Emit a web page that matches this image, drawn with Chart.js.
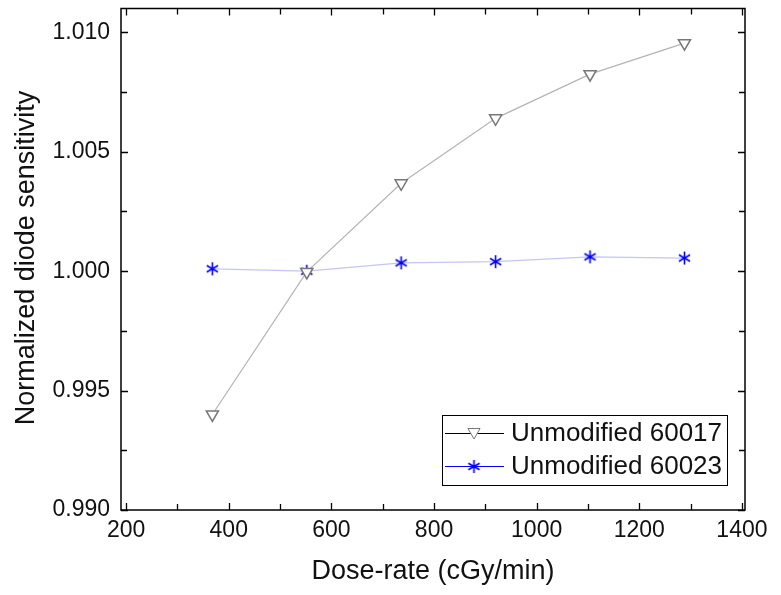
<!DOCTYPE html>
<html>
<head>
<meta charset="utf-8">
<script src="https://cdn.jsdelivr.net/npm/chart.js@4.4.0/dist/chart.umd.min.js"></script>
<style>
  body { margin: 0; background: #fff; }
  #wrap { width: 781px; height: 595px; }
</style>
</head>
<body>
<div id="wrap"><canvas id="chart" width="781" height="595"></canvas></div>
<script>
// Data
const doseRates = [368, 552, 736, 920, 1104, 1288];
const sens60017 = [0.9940, 0.99997, 1.00368, 1.0064, 1.00825, 1.00955];
const sens60023 = [1.0001, 1.0000, 1.00035, 1.0004, 1.0006, 1.00055];
const seriesNames = ["Unmodified 60017", "Unmodified 60023"];
const xTicks = [200, 400, 600, 800, 1000, 1200, 1400];
const yTicks = [0.990, 0.995, 1.000, 1.005, 1.010];

const FONT = "'Liberation Sans', Arial, sans-serif";

// asterisk marker (6 arms)
function makeStar(color, size) {
  const c = document.createElement("canvas");
  c.width = size;
  c.height = size;
  const g = c.getContext("2d");
  const r = size / 2 - 1;
  g.strokeStyle = color;
  g.lineWidth = 1.6;
  g.beginPath();
  for (let k = 0; k < 3; k++) {
    const a = Math.PI / 2 + (k * Math.PI) / 3;
    g.moveTo(size / 2 + Math.cos(a) * r, size / 2 - Math.sin(a) * r);
    g.lineTo(size / 2 - Math.cos(a) * r, size / 2 + Math.sin(a) * r);
  }
  g.stroke();
  return c;
}
const starImg = makeStar("#0000ff", 15);

const pts = (ys) => doseRates.map((x, i) => ({ x: x, y: ys[i] }));

const frame = {
  id: "frame",
  afterDraw(chart) {
    const ctx = chart.ctx;
    const a = chart.chartArea;
    const xs = chart.scales.x;
    const ys = chart.scales.y;
    ctx.save();
    ctx.strokeStyle = "#000";
    ctx.lineWidth = 1.5;
    ctx.strokeRect(a.left, a.top, a.right - a.left, a.bottom - a.top);

    // inward ticks on all four sides, minor halfway
    ctx.lineWidth = 1.3;
    ctx.beginPath();
    for (let i = 0; i < xTicks.length; i++) {
      const vals = [xTicks[i]];
      if (i < xTicks.length - 1) vals.push(xTicks[i] + 100);
      vals.forEach((v, j) => {
        const px = Math.round(xs.getPixelForValue(v)) + 0.5;
        const len = j === 0 ? 7 : 6;
        ctx.moveTo(px, a.bottom);
        ctx.lineTo(px, a.bottom - len);
        ctx.moveTo(px, a.top);
        ctx.lineTo(px, a.top + len);
      });
    }
    for (let i = 0; i < yTicks.length; i++) {
      const vals = [yTicks[i]];
      if (i < yTicks.length - 1) vals.push(yTicks[i] + 0.0025);
      vals.forEach((v, j) => {
        const py = Math.round(ys.getPixelForValue(v)) + 0.5;
        const len = j === 0 ? 7 : 6;
        ctx.moveTo(a.left, py);
        ctx.lineTo(a.left + len, py);
        ctx.moveTo(a.right, py);
        ctx.lineTo(a.right - len, py);
      });
    }
    ctx.stroke();

    // x tick labels
    ctx.fillStyle = "#111";
    ctx.font = "23px " + FONT;
    ctx.textAlign = "center";
    ctx.textBaseline = "middle";
    xTicks.forEach((v) => {
      ctx.fillText(String(v), xs.getPixelForValue(v), 531);
    });

    // axis titles
    ctx.font = "27px " + FONT;
    ctx.fillText("Dose-rate (cGy/min)", 433, 572);
    ctx.save();
    ctx.translate(27, 258);
    ctx.rotate(-Math.PI / 2);
    ctx.fillText("Normalized diode sensitivity", 0, 0);
    ctx.restore();

    // legend box
    ctx.lineWidth = 1;
    ctx.strokeStyle = "#000";
    ctx.fillStyle = "#fff";
    ctx.fillRect(442.5, 415.5, 285, 70);
    ctx.strokeRect(442.5, 415.5, 285, 70);
    const rows = [433, 466];
    ctx.lineWidth = 1;
    ctx.strokeStyle = "#000";
    ctx.beginPath();
    ctx.moveTo(445, rows[0] + 0.5);
    ctx.lineTo(504, rows[0] + 0.5);
    ctx.stroke();
    ctx.strokeStyle = "#0000ff";
    ctx.beginPath();
    ctx.moveTo(445, rows[1] + 0.5);
    ctx.lineTo(504, rows[1] + 0.5);
    ctx.stroke();
    ctx.fillStyle = "#fff";
    ctx.strokeStyle = "#777";
    Chart.helpers.drawPoint(ctx, { pointStyle: "triangle", rotation: 180, radius: 7, borderWidth: 1.5 }, 474, rows[0] - 1);
    ctx.drawImage(starImg, 474 - 7.5, rows[1] - 7);
    ctx.fillStyle = "#111";
    ctx.font = "26px " + FONT;
    ctx.textAlign = "left";
    ctx.fillText(seriesNames[0], 511, rows[0] + 1);
    ctx.fillText(seriesNames[1], 511, rows[1] + 1);
    ctx.restore();
  }
};

new Chart(document.getElementById("chart"), {
  type: "line",
  data: {
    datasets: [
      {
        label: seriesNames[0],
        data: pts(sens60017),
        borderColor: "#b4b4b4",
        borderWidth: 1.2,
        pointStyle: "triangle",
        rotation: 180,
        pointRadius: 7,
        pointBorderWidth: 1.5,
        pointBorderColor: "#777",
        pointBackgroundColor: "#fff"
      },
      {
        label: seriesNames[1],
        data: pts(sens60023),
        borderColor: "#c4c4ff",
        borderWidth: 1.2,
        pointStyle: starImg,
        pointRadius: 7
      }
    ]
  },
  options: {
    responsive: false,
    animation: false,
    devicePixelRatio: 1,
    layout: { padding: { top: 7, right: 36, left: 0, bottom: 0 } },
    plugins: { legend: { display: false }, tooltip: { enabled: false } },
    scales: {
      x: {
        type: "linear",
        min: 190,
        max: 1406,
        grid: { display: false, drawTicks: false },
        border: { display: false },
        ticks: { display: false, stepSize: 200, includeBounds: false },
        afterFit: (s) => {
          s.height = 85;
          s.paddingLeft = 0;
          s.paddingRight = 0;
        }
      },
      y: {
        min: 0.99,
        max: 1.011,
        grid: { display: false, drawTicks: false },
        border: { display: false },
        ticks: {
          stepSize: 0.005,
          includeBounds: false,
          padding: 11,
          color: "#111",
          font: { size: 23, family: FONT },
          callback: (v) => v.toFixed(3)
        },
        afterFit: (s) => {
          s.width = 121;
          s.paddingTop = 0;
          s.paddingBottom = 0;
        }
      }
    }
  },
  plugins: [frame]
});
</script>
</body>
</html>
